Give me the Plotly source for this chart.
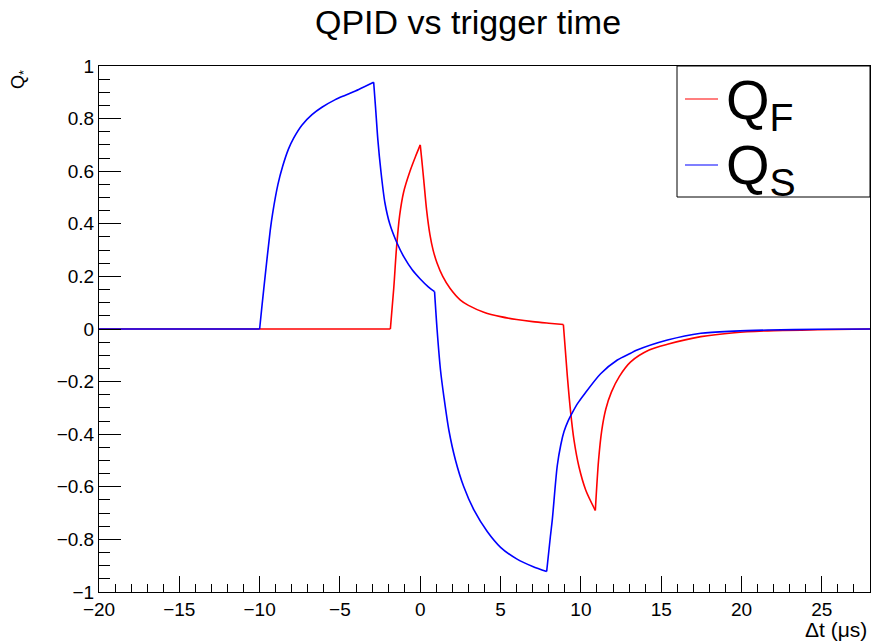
import plotly.graph_objects as go

# ---- data ----
qs_t = [-20, -10, -9.85, -9.65, -9.34, -9.19, -8.86, -8.57, -8.20, -7.89, -7.37, -6.74,
        -6.12, -5.29, -4.66, -3.83, -2.90, -2.78, -2.64, -2.45, -2.20, -1.90, -1.44,
        -1.00, -0.50, 0.00, 0.50, 0.89, 1.05, 1.26, 1.47, 1.78, 2.19, 2.71, 3.34, 4.17,
        5.00, 6.00, 7.00, 7.87, 8.10, 8.22, 8.53, 8.75, 8.95, 9.20, 9.47, 9.80, 10.19,
        11.23, 12.27, 13.10, 13.42, 15.39, 17.47, 19.55, 21.63, 24.75, 28]
qs_v = [0, 0, 0.09, 0.205, 0.375, 0.44, 0.550, 0.618, 0.685, 0.725, 0.775, 0.815,
        0.843, 0.872, 0.889, 0.911, 0.938, 0.84, 0.72, 0.60, 0.48, 0.40, 0.326,
        0.272, 0.225, 0.19, 0.16, 0.142, -0.004, -0.156, -0.257, -0.384, -0.498, -0.600,
        -0.688, -0.770, -0.830, -0.874, -0.903, -0.922, -0.79, -0.726, -0.52, -0.44,
        -0.39, -0.35, -0.318, -0.283, -0.25, -0.17, -0.118, -0.092, -0.082, -0.042,
        -0.016, -0.008, -0.004, -0.001, 0]
# indices of the sharp corners in the QS series (segments between them are smooth)
qs_corners = [0, 1, 16, 27, 39, 58]

qf_t = [-20, -1.86, -1.65, -1.48, -1.28, -1.03, -0.65, -0.30, 0.00, 0.10, 0.22, 0.40,
        0.60, 0.80, 1.05, 1.40, 1.85, 2.50, 3.00, 4.00, 5.00, 6.00, 7.00, 8.00, 8.91,
        9.16, 9.37, 9.57, 9.88, 10.30, 10.90, 11.10, 11.30, 11.55, 11.90, 12.40, 13.10,
        14.25, 15.39, 17.47, 19.55, 21.63, 24.75, 28]
qf_v = [0, 0, 0.155, 0.307, 0.433, 0.522, 0.598, 0.655, 0.700, 0.64, 0.565, 0.45,
        0.36, 0.30, 0.25, 0.20, 0.155, 0.11, 0.09, 0.063, 0.047, 0.036, 0.028, 0.022, 0.017,
        -0.181, -0.321, -0.422, -0.524, -0.612, -0.690, -0.50, -0.385, -0.305, -0.24,
        -0.18, -0.125, -0.080, -0.058, -0.029, -0.014, -0.007, -0.003, 0]
qf_corners = [0, 1, 8, 24, 30, 43]

x_range = [-20, 28]
y_range = [-1, 1]

# ---- layout geometry (pixels) ----
W, H = 871, 643
L, R, T, B = 99, 870, 66, 592


def px(x):
    return (x - L) / (R - L)


def py(y):
    return (B - y) / (B - T)


FONT = "Liberation Sans, Arial, Helvetica, sans-serif"

fig = go.Figure()


def add_series(t, v, corners, color):
    for a, b in zip(corners[:-1], corners[1:]):
        fig.add_trace(go.Scatter(x=t[a:b + 1], y=v[a:b + 1], mode="lines",
                                 line=dict(color=color, width=1.6, shape="spline", smoothing=0.8),
                                 showlegend=False, hoverinfo="skip"))


add_series(qf_t, qf_v, qf_corners, "#ff0000")
add_series(qs_t, qs_v, qs_corners, "#0000ff")

axis_common = dict(showgrid=False, zeroline=False, showline=True, linecolor="black",
                   linewidth=1, mirror=True, ticks="inside", tickcolor="black", tickwidth=1,
                   tickfont=dict(family=FONT, size=19, color="black"))

fig.update_xaxes(range=x_range, tickmode="linear", tick0=-20, dtick=5, ticklen=16,
                 minor=dict(ticks="inside", dtick=1, ticklen=8, tickcolor="black"),
                 **axis_common)
fig.update_yaxes(range=y_range, tickmode="linear", tick0=-1, dtick=0.2, ticklen=22,
                 minor=dict(ticks="inside", dtick=0.05, ticklen=11, tickcolor="black"),
                 **axis_common)

shapes = [
    dict(type="rect", xref="paper", yref="paper", x0=px(677), x1=px(870), y0=py(197), y1=py(66),
         line=dict(color="black", width=1), fillcolor="white", layer="above"),
    dict(type="line", xref="paper", yref="paper", x0=px(685), x1=px(718), y0=py(99), y1=py(99),
         line=dict(color="#ff0000", width=1.2), layer="above"),
    dict(type="line", xref="paper", yref="paper", x0=px(685), x1=px(718), y0=py(165), y1=py(165),
         line=dict(color="#0000ff", width=1.2), layer="above"),
]

annotations = [
    dict(text="QPID vs trigger time", xref="paper", yref="paper", x=px(468), y=py(22),
         xanchor="center", yanchor="middle", showarrow=False,
         font=dict(family=FONT, size=34, color="black")),
    dict(text="Δt (μs)", xref="paper", yref="paper", x=px(869), y=py(629),
         xanchor="right", yanchor="middle", showarrow=False,
         font=dict(family=FONT, size=21, color="black")),
    dict(text="Q<sub>*</sub>", xref="paper", yref="paper", x=px(19), y=py(80),
         xanchor="center", yanchor="middle", showarrow=False, textangle=-90,
         font=dict(family=FONT, size=18, color="black")),
    dict(text="Q<sub>F</sub>", xref="paper", yref="paper", x=px(724), y=py(104),
         xanchor="left", yanchor="middle", showarrow=False,
         font=dict(family=FONT, size=56, color="black")),
    dict(text="Q<sub>S</sub>", xref="paper", yref="paper", x=px(724), y=py(169),
         xanchor="left", yanchor="middle", showarrow=False,
         font=dict(family=FONT, size=56, color="black")),
]

fig.update_layout(width=W, height=H, margin=dict(l=L, r=W - R, t=T, b=H - B),
                  paper_bgcolor="white", plot_bgcolor="white",
                  shapes=shapes, annotations=annotations,
                  font=dict(family=FONT, color="black"))

fig.write_html("out.html")
